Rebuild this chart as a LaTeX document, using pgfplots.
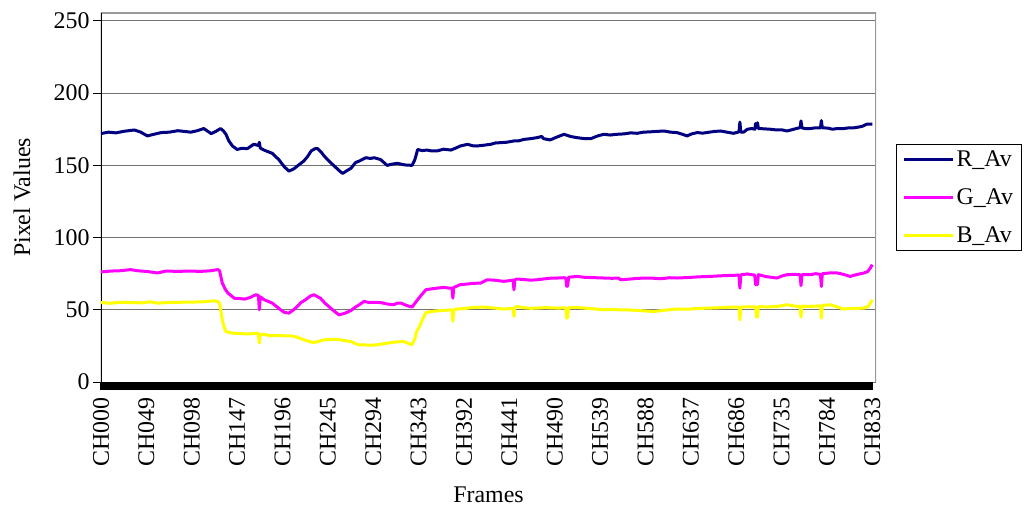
\documentclass[border=0pt]{standalone}
\usepackage{fontspec}
\setmainfont{Liberation Serif}
\usepackage{pgfplots}
\pgfplotsset{compat=1.18}
\definecolor{rav}{RGB}{0,0,128}
\definecolor{gav}{RGB}{255,0,255}
\definecolor{bav}{RGB}{255,255,0}
\newcommand{\cf}{\fontsize{24}{28}\selectfont}
\begin{document}
\begin{tikzpicture}
\begin{axis}[
  scale only axis, width=775bp, height=369bp,
  xmin=0, xmax=837, ymin=0, ymax=255.5,
  axis line style={draw=none},
  xtick={0,49,...,833},
  xticklabels={CH000,CH049,CH098,CH147,CH196,CH245,CH294,CH343,CH392,CH441,CH490,CH539,CH588,CH637,CH686,CH735,CH784,CH833},
  minor x tick num=48,
  ytick={0,50,...,250},
  xtick pos=bottom, ytick pos=left,
  tick align=outside,
  major tick length=8bp, minor tick length=8bp,
  major tick style={black, line width=1bp},
  minor tick style={black, line width=1bp},
  ymajorgrids, major grid style={black!55, line width=1bp},
  /pgf/number format/assume math mode=true,
  tick label style={font=\cf},
  label style={font=\cf},
  xticklabel style={rotate=90, anchor=east, xshift=-4bp},
  xlabel={Frames},
  xlabel style={at={(axis description cs:0.5,-0.306)}, anchor=center},
  ylabel={Pixel Values},
  ylabel style={at={(axis description cs:-0.102,0.5)}, anchor=center},
  legend style={at={(axis description cs:1,0.5)}, anchor=west, xshift=20bp,
    draw=black, line width=1bp, font=\cf, inner xsep=6bp, inner ysep=4bp,
    row sep=17bp, cells={anchor=west}},
  legend image code/.code={\draw[#1, line width=3bp] (0bp,0bp) -- (49bp,0bp);},
  every axis plot/.append style={line width=3bp, line join=round},
]
\coordinate (SW) at (rel axis cs:0,0);
\coordinate (NE) at (rel axis cs:1,1);
\draw[black!40, line width=2.5bp] (rel axis cs:0,1) -- (rel axis cs:1,1) -- (rel axis cs:1,0);
\draw[black, line width=1.5bp] (rel axis cs:0,0) -- (rel axis cs:0,1);

\addplot[rav] coordinates {
(0,172)(8,173)(16,172.5)(25,173.6)(36,174.5)(43,173)(50,170.4)(57,171.5)(65,172.7)(74,173)(83,174)(90,173.5)(97,173)(104,174)(111,175.5)(119,172)(124,173.5)(129,175.5)(132,174)(135,171.5)(138,167)(142,163.4)(147,161)(152,161.8)(158,161.6)(165,164.6)(170,163.8)(171,166)(172,162)(176,160.6)(185,158.3)(192,154)(198,149)(203,146)(208,147.5)(212,149.5)(219,153)(223,156)(227,160)(231,161.5)(234,161.6)(238,159)(241,156.5)(247,152.5)(252,149.5)(257,146.5)(261,144.4)(266,146.5)(270,148)(275,152)(279,153)(286,155.3)(291,154.8)(295,155.3)(302,154)(309,150)(314,150.8)(320,151.4)(328,150.3)(336,150)(339,154)(342,161)(347,160.2)(352,160.6)(357,160)(363,160)(370,161.2)(378,160.6)(384,162.2)(388,163.4)(396,164.6)(401,163.6)(406,163.4)(414,164)(421,164.6)(426,165.5)(431,165.7)(438,166)(446,166.9)(451,167)(457,168)(464,168.5)(471,169.2)(476,170)(478,168.5)(485,167.6)(492,169.5)(500,171.5)(507,170)(514,169.2)(521,168.6)(529,168.5)(536,170.3)(543,171.5)(550,171)(557,171.5)(565,171.8)(572,172.5)(579,172.2)(586,173)(593,173.2)(600,173.5)(608,173.8)(615,173)(622,172.7)(628,171.5)(633,170.4)(638,171.8)(644,172.7)(650,172.3)(657,173)(663,173.5)(669,173.8)(676,173)(683,172.2)(688,173)(689,173)(690,180)(691,173)(694,173)(698,175)(703,175.5)(706,175)(707,179)(708,176)(709,179.5)(710,175.5)(716,175.3)(723,175)(730,174.5)(736,174.5)(741,173.8)(748,175)(754,176)(755,176)(756,180.8)(757,176)(760,175.5)(766,175.5)(772,176)(777,176)(778,181)(779,176)(785,175.8)(790,175)(795,175.5)(802,175.5)(808,176)(813,176)(818,176.5)(822,177)(827,178.5)(833,178.5)
};
\addlegendentry{R\_Av\hspace{6bp}}

\addplot[gav] coordinates {
(0,76.2)(10,76.8)(20,77)(32,77.8)(40,77)(50,76.5)(61,75.5)(70,76.8)(83,76.6)(95,76.8)(108,76.6)(118,77)(126,77.8)(128,77.2)(131,68.5)(134,64.5)(137,61.6)(144,58)(150,57.8)(155,57.4)(161,58.5)(167,60.4)(170,60)(171,50)(172,59)(176,57)(180,56)(185,54.6)(190,52)(194,50)(198,48.2)(203,47.7)(208,50)(212,52.3)(216,55)(221,57)(226,59.5)(230,60.4)(234,59)(237,58)(242,54.5)(248,51.2)(252,49)(257,46.5)(263,47.5)(270,49.5)(275,52)(279,53.5)(284,55.8)(290,55)(295,55.2)(302,55)(309,54)(316,53.5)(320,54.6)(324,54.6)(330,53)(336,51.9)(339,54.5)(342,57)(347,61)(351,63.9)(357,64.5)(363,65)(370,65.5)(376,65)(379,65)(380,58)(381,65.5)(388,67.4)(395,67.8)(402,68.3)(410,68.5)(417,70.8)(425,70.5)(435,69.7)(445,70.5)(446,63.9)(447,70.8)(449,71.3)(456,71)(464,70.5)(471,70.8)(480,71.5)(487,72)(493,72)(500,72.2)(502,72)(503,66.2)(504,66.5)(505,72.5)(514,73.1)(522,72.5)(530,72.3)(543,72)(552,71.8)(559,72)(561,70.8)(570,71.2)(580,71.8)(593,72)(605,71.5)(614,72.2)(622,72)(633,72.3)(645,72.8)(658,73.1)(668,73.5)(680,73.8)(689,74)(690,65)(691,74.2)(698,74.8)(706,74)(707,67.4)(709,67.4)(710,74.3)(718,73)(730,72)(736,73.5)(741,74.3)(748,74.5)(755,74.3)(756,66.7)(757,74.3)(766,74.3)(772,75)(777,74.5)(778,66.2)(779,75)(787,75.5)(795,75.5)(802,74.5)(809,73.1)(815,74.2)(824,75.5)(828,76.5)(831,79)(833,81.3)
};
\addlegendentry{G\_Av\hspace{6bp}}

\addplot[bav] coordinates {
(0,55)(10,54.5)(20,55.2)(32,55)(45,54.8)(53,55.5)(61,54.6)(72,55)(85,55.2)(97,55.3)(110,55.5)(122,56.2)(126,55.8)(128,54.6)(130,47)(131,43)(133,38)(135,35)(140,34)(144,33.8)(150,33.5)(158,33.3)(164,33.5)(170,33.8)(171,27)(172,33)(176,33)(183,32)(190,32.3)(197,32)(205,32)(212,31)(219,29.2)(225,28)(230,27.3)(236,28.3)(241,29.2)(248,29.5)(255,29.6)(262,28.8)(270,28)(275,26.5)(279,25.7)(284,25.7)(291,25.5)(298,25.7)(305,26.5)(313,27.3)(320,27.8)(327,28)(331,27)(336,25.7)(339,30)(341,35)(344,38.4)(347,43)(351,48.1)(357,48.8)(363,49.3)(370,49.5)(378,50)(379,50)(380,42)(381,50)(384,50.5)(392,50.8)(400,51.5)(413,51.9)(420,51.5)(428,51)(435,50.5)(445,51)(446,45.4)(447,51.5)(449,52.3)(456,51.5)(464,51)(471,51.2)(480,51.5)(493,51.2)(502,51.3)(503,44.2)(504,44.5)(505,51.5)(514,51.6)(525,51)(535,50.5)(543,50)(552,50.2)(559,50)(567,50)(580,49.5)(597,48.8)(610,49.8)(622,50.5)(635,50.5)(648,51)(658,51.2)(670,51.5)(680,51.8)(689,51.9)(690,43)(691,51.9)(700,52)(707,52)(708,44.9)(709,45)(710,52.2)(720,52)(730,52.3)(741,53.5)(750,52.5)(755,52.3)(756,44.9)(757,52.5)(766,52.3)(772,52.5)(777,52.8)(778,44.2)(779,53)(788,53.5)(795,52)(802,50.5)(810,51)(818,51)(824,51.2)(829,52.5)(833,57)
};
\addlegendentry{B\_Av\hspace{6bp}}
\end{axis}
\pgfresetboundingbox
\path ([shift={(-101bp,-131bp)}]SW) rectangle ([shift={(154bp,13bp)}]NE);
\end{tikzpicture}
\end{document}
